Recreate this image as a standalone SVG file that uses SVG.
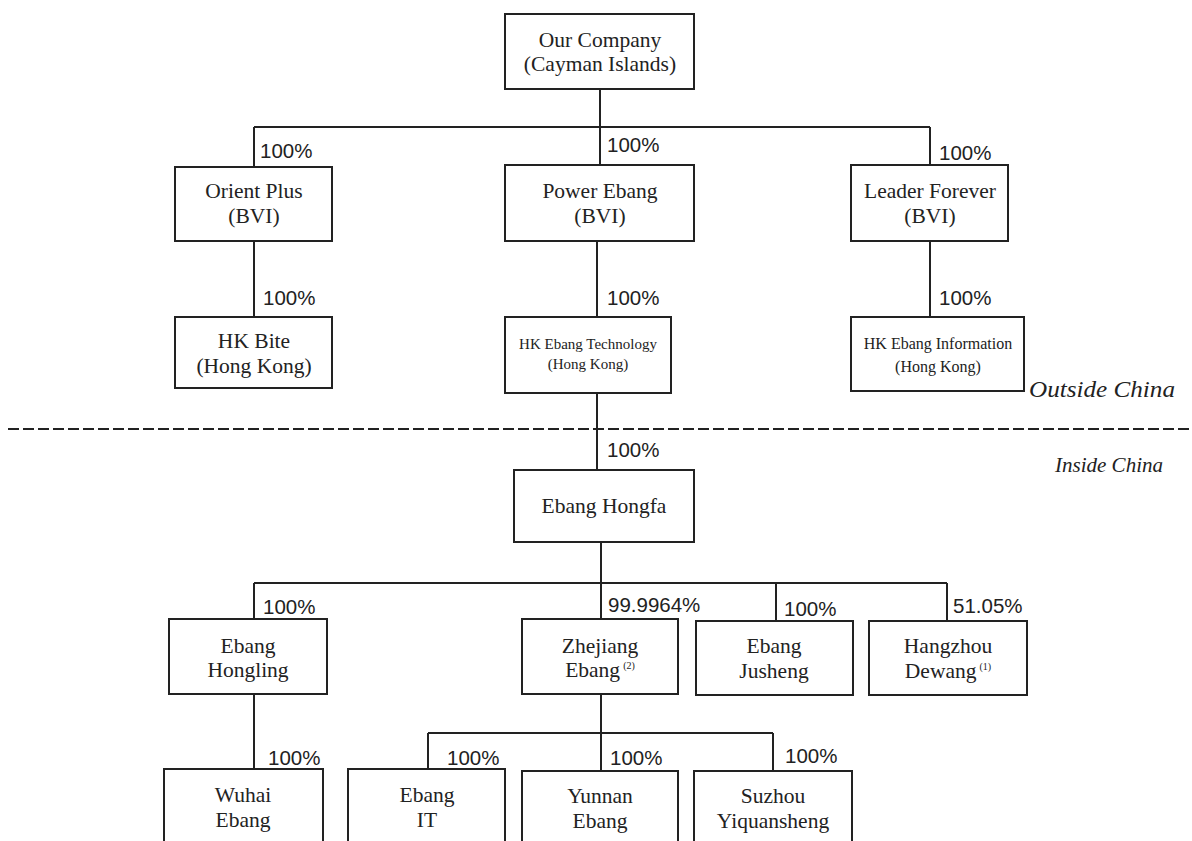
<svg xmlns="http://www.w3.org/2000/svg" width="1192" height="841" viewBox="0 0 1192 841">
<style>
.box{fill:#fff;stroke:#222;stroke-width:2}
.t{font-family:"Liberation Serif","Times New Roman",serif;font-size:21.5px;fill:#222;text-anchor:middle}
.s{font-size:15px}
.m{font-size:16px}
.sup{font-size:10px}
.p{font-family:"Liberation Sans",Arial,sans-serif;font-size:20.5px;fill:#222}
.it{font-family:"Liberation Serif","Times New Roman",serif;font-style:italic;font-size:21px;fill:#222}
.ln{fill:none;stroke:#222;stroke-width:2}
.dash{fill:none;stroke:#222;stroke-width:2;stroke-dasharray:11 4}
</style>
<g id="connectors">
<path class="ln" d="M600,89 V127 M254,127 H930 M254,127 V167 M600,127 V165 M930,127 V165"/>
<path class="ln" d="M254,241 V317 M597,241 V317 M930,241 V317"/>
<path class="ln" d="M597,393 V470"/>
<path class="ln" d="M601,542 V619 M254,583 H947 M254,583 V619 M776,583 V621 M947,583 V621"/>
<path class="ln" d="M254,694 V769 M601,694 V771 M428,733 H773 M428,733 V769 M773,733 V771"/>
</g>
<path class="dash" d="M8,429 H1192"/>
<g id="labels">
<text class="p" x="260" y="158">100%</text>
<text class="p" x="607" y="152">100%</text>
<text class="p" x="939" y="160">100%</text>
<text class="p" x="263" y="305">100%</text>
<text class="p" x="607" y="305">100%</text>
<text class="p" x="939" y="305">100%</text>
<text class="p" x="607" y="457">100%</text>
<text class="p" x="263" y="614">100%</text>
<text class="p" x="608" y="612">99.9964%</text>
<text class="p" x="784" y="616">100%</text>
<text class="p" x="953" y="613">51.05%</text>
<text class="p" x="268" y="765">100%</text>
<text class="p" x="447" y="765">100%</text>
<text class="p" x="610" y="765">100%</text>
<text class="p" x="785" y="763">100%</text>
<text class="it" x="1029" y="397" style="font-size:24px" textLength="146" lengthAdjust="spacingAndGlyphs">Outside China</text>
<text class="it" x="1055" y="472" textLength="108" lengthAdjust="spacingAndGlyphs">Inside China</text>
</g>
<g id="our-company"><rect class="box" x="505" y="14" width="189" height="75"/><text class="t" x="600" y="47">Our Company</text><text class="t" x="600" y="71">(Cayman Islands)</text></g>
<g id="orient-plus"><rect class="box" x="175" y="167" width="157" height="74"/><text class="t" x="254" y="198">Orient Plus</text><text class="t" x="254" y="223">(BVI)</text></g>
<g id="power-ebang"><rect class="box" x="505" y="165" width="189" height="76"/><text class="t" x="600" y="198">Power Ebang</text><text class="t" x="600" y="223">(BVI)</text></g>
<g id="leader-forever"><rect class="box" x="851" y="165" width="157" height="76"/><text class="t" x="930" y="198">Leader Forever</text><text class="t" x="930" y="223">(BVI)</text></g>
<g id="hk-bite"><rect class="box" x="175" y="317" width="157" height="71"/><text class="t" x="254" y="348">HK Bite</text><text class="t" x="254" y="373">(Hong Kong)</text></g>
<g id="hk-ebang-technology"><rect class="box" x="505" y="317" width="166" height="76"/><text class="t s" x="588" y="349">HK Ebang Technology</text><text class="t s" x="588" y="369">(Hong Kong)</text></g>
<g id="hk-ebang-information"><rect class="box" x="851" y="317" width="173" height="74"/><text class="t m" x="938" y="349">HK Ebang Information</text><text class="t m" x="938" y="372">(Hong Kong)</text></g>
<g id="ebang-hongfa"><rect class="box" x="514" y="470" width="180" height="72"/><text class="t" x="604" y="513">Ebang Hongfa</text></g>
<g id="ebang-hongling"><rect class="box" x="169" y="619" width="158" height="75"/><text class="t" x="248" y="653">Ebang</text><text class="t" x="248" y="677">Hongling</text></g>
<g id="zhejiang-ebang"><rect class="box" x="522" y="619" width="156" height="75"/><text class="t" x="600" y="653">Zhejiang</text><text class="t" x="600" y="677">Ebang<tspan class="sup" dx="3" dy="-8">(2)</tspan></text></g>
<g id="ebang-jusheng"><rect class="box" x="696" y="621" width="157" height="74"/><text class="t" x="774" y="653">Ebang</text><text class="t" x="774" y="678">Jusheng</text></g>
<g id="hangzhou-dewang"><rect class="box" x="869" y="621" width="158" height="74"/><text class="t" x="948" y="653">Hangzhou</text><text class="t" x="948" y="678">Dewang<tspan class="sup" dx="3" dy="-8">(1)</tspan></text></g>
<g id="wuhai-ebang"><rect class="box" x="164" y="769" width="159" height="90"/><text class="t" x="243" y="802">Wuhai</text><text class="t" x="243" y="827">Ebang</text></g>
<g id="ebang-it"><rect class="box" x="348" y="769" width="157" height="90"/><text class="t" x="427" y="802">Ebang</text><text class="t" x="427" y="827">IT</text></g>
<g id="yunnan-ebang"><rect class="box" x="522" y="771" width="156" height="90"/><text class="t" x="600" y="803">Yunnan</text><text class="t" x="600" y="828">Ebang</text></g>
<g id="suzhou-yiquansheng"><rect class="box" x="694" y="771" width="158" height="90"/><text class="t" x="773" y="803">Suzhou</text><text class="t" x="773" y="828">Yiquansheng</text></g>
</svg>
